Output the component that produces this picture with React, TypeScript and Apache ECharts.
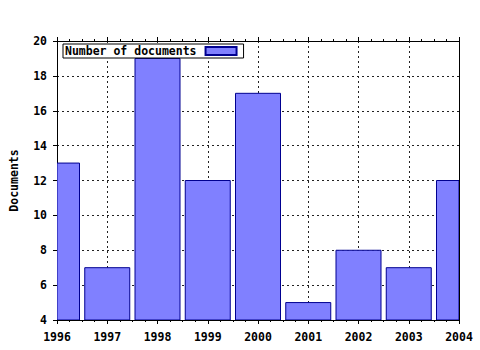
import React, { useEffect, useRef } from "react";
import * as echarts from "echarts";

const years = [1996, 1997, 1998, 1999, 2000, 2001, 2002, 2003, 2004];
const documents = [13, 7, 19, 12, 17, 5, 8, 7, 12];
const seriesName = "Number of documents";
const yAxisName = "Documents";

const FONT = "'DejaVu Sans Mono', monospace";
const BAR_FILL = "#8080ff";
const BAR_STROKE = "#000090";

export default function App() {
  const ref = useRef<HTMLDivElement>(null);
  useEffect(() => {
    if (!ref.current) return;
    const chart = echarts.init(ref.current, null, { renderer: "svg" });
    const lbl = { fontFamily: FONT, fontWeight: "bold" as const, fontSize: 11.5, color: "#000" };
    chart.setOption({
      animation: false,
      backgroundColor: "#fff",
      grid: { left: 57, right: 21, top: 41, bottom: 30, containLabel: false, outerBoundsMode: "none" },
      legend: {
        show: true,
        left: 63,
        top: 44,
        orient: "horizontal",
        align: "right",
        itemWidth: 31,
        itemHeight: 8,
        itemGap: 4,
        padding: [1, 6, 1, 2],
        borderColor: "#000",
        borderWidth: 1,
        borderRadius: 0,
        backgroundColor: "#fff",
        textStyle: { fontFamily: FONT, fontWeight: "bold", fontSize: 11.5, color: "#000", padding: [0, 4, 0, 0] },
        data: [{ name: seriesName, icon: "rect" }],
      },
      xAxis: [
        {
          type: "value",
          min: 1996,
          max: 2004,
          interval: 1,
          position: "bottom",
          axisLine: { show: true, lineStyle: { color: "#000", width: 1 } },
          axisTick: { show: true, length: 4, inside: false, lineStyle: { color: "#000" } },
          minorTick: { show: true, splitNumber: 4, length: 2, lineStyle: { color: "#000" } },
          axisLabel: { ...lbl, margin: 11, formatter: (v: number) => String(v) },
          splitLine: { show: true, lineStyle: { color: "#222", type: [2, 3], width: 1 } },
        },
        {
          type: "value",
          min: 1996,
          max: 2004,
          interval: 1,
          position: "top",
          axisLine: { show: true, lineStyle: { color: "#000", width: 1 } },
          axisTick: { show: true, length: 4, lineStyle: { color: "#000" } },
          minorTick: { show: true, splitNumber: 4, length: 2, lineStyle: { color: "#000" } },
          axisLabel: { show: false },
          splitLine: { show: false },
        },
      ],
      yAxis: [
        {
          type: "value",
          min: 4,
          max: 20,
          interval: 2,
          position: "left",
          name: yAxisName,
          nameLocation: "middle",
          nameGap: 37,
          nameRotate: 90,
          nameTextStyle: { ...lbl, fontSize: 11.5 },
          axisLine: { show: true, lineStyle: { color: "#000", width: 1 } },
          axisTick: { show: true, length: 4, lineStyle: { color: "#000" } },
          axisLabel: { ...lbl, margin: 10 },
          splitLine: { show: true, lineStyle: { color: "#222", type: [2, 3], width: 1 } },
        },
        {
          type: "value",
          min: 4,
          max: 20,
          interval: 2,
          position: "right",
          axisLine: { show: true, lineStyle: { color: "#000", width: 1 } },
          axisTick: { show: false },
          axisLabel: { show: false },
          splitLine: { show: false },
        },
      ],
      series: [
        {
          name: seriesName,
          type: "custom",
          xAxisIndex: 0,
          yAxisIndex: 0,
          clip: true,
          encode: { x: 0, y: 1 },
          data: years.map((y, i) => [y, documents[i]]),
          itemStyle: { color: BAR_FILL, borderColor: BAR_STROKE, borderWidth: 1 },
          renderItem: (params: any, api: any) => {
            const x = api.value(0);
            const v = api.value(1);
            const top = api.coord([x, v]);
            const base = api.coord([x, 4]);
            const w = 45;
            const cs = params.coordSys;
            const shape = echarts.graphic.clipRectByRect(
              { x: top[0] - w / 2, y: top[1], width: w, height: base[1] - top[1] },
              { x: cs.x, y: cs.y, width: cs.width, height: cs.height }
            );
            if (!shape) return null;
            return {
              type: "rect",
              shape,
              style: { fill: BAR_FILL, stroke: BAR_STROKE, lineWidth: 1 },
            };
          },
        },
      ],
    });
    return () => chart.dispose();
  }, []);
  return <div ref={ref} style={{ width: 480, height: 350, position: "absolute", left: 0, top: 0 }} />;
}
